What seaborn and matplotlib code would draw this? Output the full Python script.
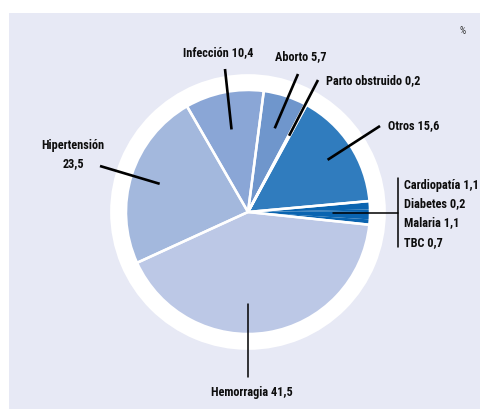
import numpy as np
import matplotlib
matplotlib.use("Agg")
import matplotlib.pyplot as plt
import seaborn as sns

# ---- data ----
categories = ["Hemorragia", "Hipertensión", "Infección", "Aborto", "Parto obstruido",
              "Otros", "Cardiopatía", "Diabetes", "Malaria", "TBC"]
values = [41.5, 23.5, 10.4, 5.7, 0.2, 15.6, 1.1, 0.2, 1.1, 0.7]
colors = ["#bcc8e6", "#a3b8dd", "#8aa6d6", "#6f96cc", "#307cbe",
          "#307cbe", "#0a64b0", "#0a64b0", "#0a64b0", "#0a64b0"]
small_group = ["Cardiopatía", "Diabetes", "Malaria", "TBC"]
unit_label = "%"

sns.set_theme(style="white")
plt.rcParams["font.family"] = ["Roboto Condensed", "Liberation Sans Narrow", "Roboto", "DejaVu Sans"]
plt.rcParams["font.stretch"] = "condensed"

W, H = 481, 410
fig = plt.figure(figsize=(W / 100, H / 100), dpi=100)
fig.patch.set_facecolor("white")
px_l, px_t = 9, 14
ax = fig.add_axes([px_l / W, 0, (W - px_l) / W, (H - px_t) / H])
ax.set_facecolor("#e7e9f5")


def P(x, y):
    """pixel (top-left origin) -> data coords"""
    return (x, H - y)


cx, cy = P(248, 213)
R = 122
start = -6.0

# white ring behind the pie
ax.pie([1], colors=["white"], radius=R * 1.13, center=(cx, cy), frame=True,
       wedgeprops=dict(linewidth=0))
# filled wedges
wedges, _ = ax.pie(values, colors=colors, radius=R, center=(cx, cy), startangle=start,
                   counterclock=False, frame=True, wedgeprops=dict(linewidth=0))
# white separators (small causes grouped together)
grp_vals = values[:6] + [sum(values[6:])]
ax.pie(grp_vals, colors=["none"] * len(grp_vals), radius=R, center=(cx, cy),
       startangle=start, counterclock=False, frame=True,
       wedgeprops=dict(linewidth=1.8, edgecolor="white", fill=False))

ax.set_xlim(px_l, W)
ax.set_ylim(0, H - px_t)
ax.set_aspect("auto")
ax.set_xticks([])
ax.set_yticks([])
for s in ax.spines.values():
    s.set_visible(False)


def fmt(v):
    return f"{v:.1f}".replace(".", ",")


def inner_point(idx_list, rfrac):
    t1 = min(wedges[i].theta1 for i in idx_list)
    t2 = max(wedges[i].theta2 for i in idx_list)
    a = np.deg2rad((t1 + t2) / 2)
    return cx + rfrac * R * np.cos(a), cy + rfrac * R * np.sin(a)


fs = 8.8
tkw = dict(fontsize=fs, fontweight="bold", color="#0d0d0d", fontstretch="condensed")
lkw = dict(color="black", lw=1.9, solid_capstyle="butt")

idx = {c: i for i, c in enumerate(categories)}

# Infección
x0, y0 = inner_point([idx["Infección"]], 0.69)
ax.plot([x0, P(225, 70)[0]], [y0, P(225, 70)[1]], **lkw)
ax.text(*P(218, 53), f"Infección {fmt(values[idx['Infección']])}", ha="center", va="center", **tkw)
# Aborto
x0, y0 = inner_point([idx["Aborto"]], 0.72)
ax.plot([x0, P(298, 75)[0]], [y0, P(298, 75)[1]], **lkw)
ax.text(*P(275, 57), f"Aborto {fmt(values[idx['Aborto']])}", ha="left", va="center", **tkw)
# Parto obstruido
x0, y0 = inner_point([idx["Parto obstruido"]], 0.71)
ax.plot([x0, P(318, 81)[0]], [y0, P(318, 81)[1]], **lkw)
ax.text(*P(326, 81), f"Parto obstruido {fmt(values[idx['Parto obstruido']])}", ha="left", va="center", **tkw)
# Otros
x0, y0 = inner_point([idx["Otros"]], 0.78)
ax.plot([x0, P(380, 127)[0]], [y0, P(380, 127)[1]], **lkw)
ax.text(*P(388, 126), f"Otros {fmt(values[idx['Otros']])}", ha="left", va="center", **tkw)
# Hipertensión
x0, y0 = inner_point([idx["Hipertensión"]], 0.76)
ax.plot([x0, P(100, 167)[0]], [y0, P(100, 167)[1]], **lkw)
ax.text(*P(73, 146), "Hipertensión", ha="center", va="center", **tkw)
ax.text(*P(73, 164), fmt(values[idx["Hipertensión"]]), ha="center", va="center", **tkw)
# Hemorragia
ax.plot([cx, cx], [P(0, 305)[1], P(0, 378)[1]], color="black", lw=1.1)
ax.text(*P(252, 393), f"Hemorragia {fmt(values[idx['Hemorragia']])}", ha="center", va="center", **tkw)
# small group
gi = [idx[c] for c in small_group]
x0, y0 = inner_point(gi, 0.70)
bx = 398
ax.plot([x0, bx], [y0, y0], color="black", lw=1.1)
ax.plot([bx, bx], [P(0, 179)[1], P(0, 248)[1]], color="black", lw=1.1)
for c, yy in zip(small_group, [186, 204, 223, 243]):
    ax.text(*P(404, yy), f"{c} {fmt(values[idx[c]])}", ha="left", va="center", **tkw)

ax.text(*P(463, 31), unit_label, ha="center", va="center", fontsize=7, color="#333333")

fig.savefig("out.png", dpi=100, facecolor="white")
